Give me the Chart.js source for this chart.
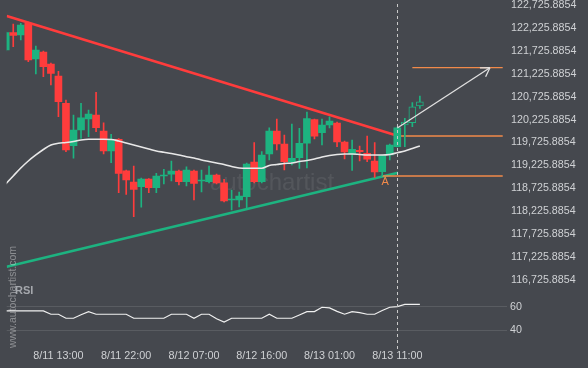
<!DOCTYPE html>
<html>
<head>
<meta charset="utf-8">
<script src="https://cdn.jsdelivr.net/npm/chart.js@4.4.1/dist/chart.umd.min.js"></script>
<style>
  html, body { margin: 0; padding: 0; background: #45484e; }
  canvas { display: block; }
</style>
</head>
<body>
<canvas id="c" width="588" height="368"></canvas>
<script>
/* ── data (hourly candles, index 0 = 8/11 06:00) ── */
const OPEN  = [121744,122122,122071,122327,121548,121701,121439,121177,120581,119657,
               119999,120239,120326,119977,119541,119796,119111,118865,118762,118930,
               118740,118996,119033,119105,118871,119105,118886,118871,119017,118849,
               118472,118472,118544,119301,118871,119475,119977,119694,119307,119395,
               119709,120224,119940,120108,120152,119737,119475,119556,119491,119323,
               119089,119454,119635,120108,120158,120523];
const HIGH  = [122137,122311,122327,122355,121832,121722,121461,121280,120653,120326,
               120581,120435,120821,120158,119905,119814,119126,119214,118952,118941,
               119054,119142,119323,119126,119198,119126,119126,119214,119039,118924,
               118690,118646,119279,119722,119526,120049,120239,119890,120130,120036,
               120392,120239,120239,120289,120174,119759,119781,119650,119868,119726,
               119454,119694,120064,120254,120595,120741];
const LOW   = [121722,121816,121962,121489,121221,121162,120981,120289,119526,119382,
               119818,119853,119962,119475,119286,118631,118596,118108,118313,118631,
               118631,118821,118886,118799,118777,118472,118646,118843,118821,118428,
               118254,118319,118297,118843,118843,119345,119563,119126,119235,119163,
               119170,119803,119672,120043,119635,119366,119115,119323,119307,118963,
               118996,119345,119628,119635,120071,120472];
const CLOSE = [122122,122065,122290,121526,121744,121380,121236,120616,119563,119999,
               120267,120348,120049,119541,119781,119054,118908,118705,118930,118740,
               118996,119017,119105,118871,119126,118836,118908,119017,118843,118450,
               118494,118559,119257,118871,119454,119977,119694,119307,119382,119709,
               120246,119862,120108,120195,119737,119519,119578,119526,119360,119083,
               119443,119672,120049,120174,120507,120616];
const MA    = [118821,118996,119170,119323,119454,119574,119672,119709,119726,119748,
               119781,119796,119796,119796,119792,119759,119715,119672,119628,119585,
               119541,119513,119486,119454,119417,119388,119345,119312,119279,119246,
               119203,119170,119163,119163,119163,119225,119246,119268,119279,119312,
               119334,119366,119410,119443,119465,119475,119475,119465,119454,119454,
               119454,119465,119504,119541,119595,119650];
const RSI   = [56.4,56.4,56.4,56.4,56.4,56.4,53.6,53.6,50.2,50.2,
               53.1,55.8,53.6,53.6,53.6,53.6,53.6,50.2,50.2,50.2,
               50.2,50.2,53.6,53.6,53.6,50.2,53.6,53.6,49.8,47,
               50.2,50.2,50.2,50.2,50.2,53.6,50.2,50.2,50.2,53,
               55.8,55.8,59.5,59,56,53.6,55.8,55,53.6,53.6,
               56.7,59.5,60,62,62,62];
const HOLLOW_FROM = 53;

const TIME_TICKS  = [7, 16, 25, 34, 43, 52];
const TIME_LABELS = ['8/11 13:00', '8/11 22:00', '8/12 07:00', '8/12 16:00', '8/13 01:00', '8/13 11:00'];
const PRICE_TICKS = [116725.8854, 117225.8854, 117725.8854, 118225.8854, 118725.8854, 119225.8854,
                     119725.8854, 120225.8854, 120725.8854, 121225.8854, 121725.8854, 122225.8854, 122725.8854];
const RSI_TICKS   = [40, 60];

/* pattern: triangle, levels, forecast */
const RESIST   = [[0.13, 122486], [52.14, 119868]];
const SUPPORT  = [[0.13, 117017], [52.1, 119067]];
const LEVEL_HI = [[51.7, 119868], [66, 119868]];
const LEVEL_LO = [[50, 118996], [66, 118996]];
const TARGET   = [[54, 121358], [66, 121358]];
const FORECAST = [[52, 120043], [64.3, 121358]];
const MARK_A   = [50.4, 118871];
const BREAK_IDX = 52;

const BG     = '#45484e';
const GREEN  = '#1db380';
const RED    = '#ff3c3c';
const ORANGE = '#f28a4a';
const TEXT   = '#cfd1d4';
const FONT   = "'Liberation Sans', Arial, sans-serif";

const idx = OPEN.map((_, i) => i);
const candleColor = i => (CLOSE[i] >= OPEN[i] ? GREEN : RED);
const pts = arr => arr.map(p => ({ x: p[0], y: p[1] }));

function lineSet(data, color, width, order) {
  return {
    type: 'line', data: pts(data), borderColor: color, borderWidth: width,
    pointRadius: 0, fill: false, tension: 0, yAxisID: 'y', order
  };
}

const overlay = {
  id: 'overlay',
  beforeDatasetsDraw(chart) {
    const { ctx } = chart;
    ctx.save();
    ctx.font = '24px ' + FONT;
    ctx.fillStyle = 'rgba(255,255,255,0.08)';
    ctx.textBaseline = 'alphabetic';
    ctx.fillText('autochartist', 210, 190);
    ctx.restore();
  },
  afterDatasetsDraw(chart) {
    const { ctx, chartArea, scales: { x, y } } = chart;
    ctx.save();
    // break line
    const bx = Math.round(x.getPixelForValue(BREAK_IDX)) + 0.5;
    ctx.strokeStyle = '#c9c9c9';
    ctx.lineWidth = 1;
    ctx.setLineDash([3, 3]);
    ctx.beginPath();
    ctx.moveTo(bx, chartArea.top + 4);
    ctx.lineTo(bx, chartArea.bottom + 7);
    ctx.stroke();
    ctx.setLineDash([]);

    // arrow head on forecast
    const meta = chart.getDatasetMeta(chart.data.datasets.findIndex(d => d.label === 'forecast'));
    const a = meta.data[0], b = meta.data[1];
    const ang = Math.atan2(b.y - a.y, b.x - a.x);
    ctx.strokeStyle = '#e0e0e0';
    ctx.lineWidth = 1.3;
    ctx.beginPath();
    [Math.PI - 0.55, Math.PI + 0.55].forEach(d => {
      ctx.moveTo(b.x, b.y);
      ctx.lineTo(b.x + 10 * Math.cos(ang + d), b.y + 10 * Math.sin(ang + d));
    });
    ctx.stroke();

    // pattern point label
    ctx.fillStyle = ORANGE;
    ctx.font = '11px ' + FONT;
    ctx.textAlign = 'center';
    ctx.textBaseline = 'middle';
    ctx.fillText('A', x.getPixelForValue(MARK_A[0]), y.getPixelForValue(MARK_A[1]));
    ctx.restore();
  },
  afterDraw(chart) {
    const { ctx } = chart;
    ctx.save();
    ctx.fillStyle = '#a5a8ad';
    ctx.font = 'bold 11px ' + FONT;
    ctx.textBaseline = 'middle';
    ctx.fillText('RSI', 15, 291);

    ctx.translate(13.5, 297);
    ctx.rotate(-Math.PI / 2);
    ctx.font = '10.5px ' + FONT;
    ctx.fillStyle = 'rgba(255,255,255,0.38)';
    ctx.textAlign = 'center';
    ctx.fillText('www.autochartist.com', 0, 0);
    ctx.restore();
  }
};

new Chart(document.getElementById('c'), {
  type: 'bar',
  data: {
    datasets: [
      {
        type: 'bar', label: 'wick',
        data: idx.map(i => ({ x: i, y: [LOW[i], HIGH[i]] })),
        backgroundColor: idx.map(candleColor),
        barThickness: 1, grouped: false, yAxisID: 'y', order: 3
      },
      {
        type: 'bar', label: 'body',
        data: idx.map(i => ({ x: i, y: [OPEN[i], CLOSE[i]] })),
        backgroundColor: idx.map(i => (i >= HOLLOW_FROM ? BG : candleColor(i))),
        borderColor: idx.map(candleColor),
        borderWidth: idx.map(i => (i >= HOLLOW_FROM ? 1 : 0)),
        borderSkipped: false, minBarLength: 1,
        barThickness: 7, grouped: false, yAxisID: 'y', order: 2
      },
      {
        type: 'line', label: 'ma',
        data: idx.map(i => ({ x: i, y: MA[i] })),
        borderColor: '#e8e8e8', borderWidth: 1.6, pointRadius: 0,
        cubicInterpolationMode: 'monotone', yAxisID: 'y', order: 1
      },
      lineSet(RESIST, RED, 2.6, 5),
      lineSet(SUPPORT, GREEN, 2.6, 5),
      lineSet(LEVEL_HI, ORANGE, 1.3, 4),
      lineSet(LEVEL_LO, ORANGE, 1.3, 4),
      lineSet(TARGET, ORANGE, 1.3, 4),
      Object.assign(lineSet(FORECAST, '#e0e0e0', 1.3, 0), { label: 'forecast' }),
      {
        type: 'line', label: 'rsi',
        data: idx.map(i => ({ x: i, y: RSI[i] })),
        borderColor: '#f0f0f0', borderWidth: 1.2, pointRadius: 0,
        tension: 0, yAxisID: 'yR', order: 0
      }
    ]
  },
  options: {
    responsive: false,
    animation: false,
    devicePixelRatio: 1,
    layout: { padding: { left: 6.7, top: 0, right: 0, bottom: 0 } },
    plugins: { legend: { display: false }, tooltip: { enabled: false } },
    scales: {
      x: {
        type: 'linear', min: 0.13, max: 66.57, offset: false,
        grid: { display: false, drawTicks: false }, border: { display: false },
        afterBuildTicks: s => { s.ticks = TIME_TICKS.map(v => ({ value: v })); },
        afterFit: s => { s.height = 24.6; s.paddingLeft = 0; s.paddingRight = 0; },
        ticks: {
          color: TEXT, font: { family: FONT, size: 10.8 }, padding: 6,
          autoSkip: false, maxRotation: 0,
          callback: v => TIME_LABELS[TIME_TICKS.indexOf(v)]
        }
      },
      y: {
        type: 'linear', position: 'right', stack: 'panes', stackWeight: 284,
        min: 116639.5, max: 122835,
        grid: { display: false, drawTicks: false }, border: { display: false },
        afterBuildTicks: s => { s.ticks = PRICE_TICKS.map(v => ({ value: v })); },
        afterFit: s => { s.width = 81; s.paddingTop = 0; s.paddingBottom = 0; },
        ticks: {
          color: TEXT, font: { family: FONT, size: 10.7 }, padding: 4, autoSkip: false,
          callback: v => v.toLocaleString('en-US', { minimumFractionDigits: 4, maximumFractionDigits: 4 })
        }
      },
      yR: {
        type: 'linear', position: 'right', stack: 'panes', stackWeight: 59.4,
        min: 28.9, max: 79.2,
        grid: { color: 'rgba(255,255,255,0.11)', drawTicks: false }, border: { display: false },
        afterBuildTicks: s => { s.ticks = RSI_TICKS.map(v => ({ value: v })); },
        afterFit: s => { s.width = 81; s.paddingTop = 0; s.paddingBottom = 0; },
        ticks: { color: TEXT, font: { family: FONT, size: 10.7 }, padding: 3, autoSkip: false }
      }
    }
  },
  plugins: [overlay]
});
</script>
</body>
</html>
